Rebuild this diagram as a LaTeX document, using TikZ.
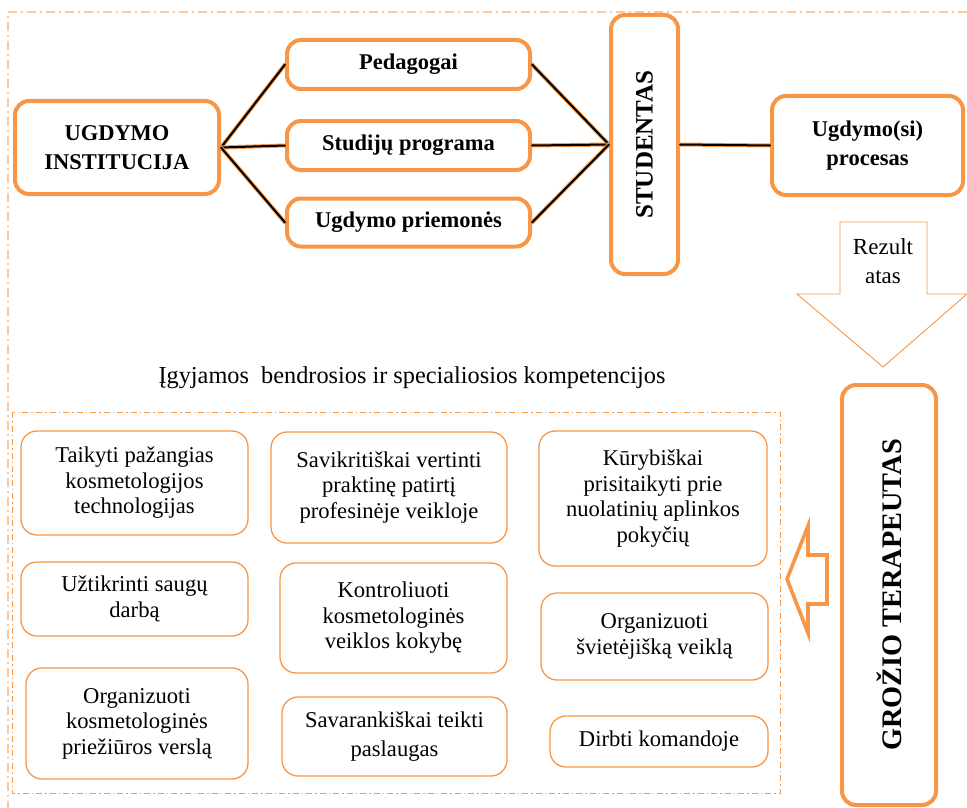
\documentclass[tikz,border=0pt]{standalone}
\usepackage{fontspec}
\setmainfont{Liberation Serif}
\usetikzlibrary{positioning}

\definecolor{accent}{RGB}{247,150,70}
\definecolor{peach}{RGB}{251,200,160}

\begin{document}
\begin{tikzpicture}[x=1pt,y=-1pt,
    mainbox/.style={draw=accent,line width=4pt,rounded corners=14pt,align=center,
      inner sep=0pt,font=\fontsize{22.5}{29}\selectfont\bfseries},
    compbox/.style={draw=accent,line width=1.3pt,rounded corners=16pt,align=center,
      inner sep=0pt,font=\fontsize{22.6}{25.5}\selectfont},
    link/.style={draw=accent,line width=4pt,line cap=round,
      postaction={draw=black,line width=2pt}}]
  \useasboundingbox (0,0) rectangle (967,808);

  % frames
  \draw[peach,line width=1.4pt,dash pattern=on 9pt off 4pt on 2pt off 4pt]
    (967,12) -- (8,12) -- (8,808);
  \draw[accent,line width=1pt,dash pattern=on 6pt off 3pt on 1.5pt off 3pt]
    (12,412) rectangle (780,793);

  % upper row
  \node[mainbox,minimum width=204,minimum height=93] (inst) at (117,147.5) {UGDYMO\\INSTITUCIJA};
  \node[mainbox,minimum width=243,minimum height=49] (ped) at (408.5,64.5) {Pedagogai};
  \node[mainbox,minimum width=243,minimum height=49] (prog) at (408.5,145.5) {Studijų programa};
  \node[mainbox,minimum width=243,minimum height=48] (prem) at (408.5,222.5) {Ugdymo priemonės};
  \node[mainbox,minimum width=67,minimum height=259,font=\fontsize{25}{29}\selectfont\bfseries]
    (stud) at (644.5,144.5) {\rotatebox{90}{STUDENTAS}};
  \node[mainbox,minimum width=191,minimum height=99] (proc) at (867.5,145.5) {Ugdymo(si)\\procesas};

  \draw[link] (inst.east) -- (ped.west);
  \draw[link] (inst.east) -- (prog.west);
  \draw[link] (inst.east) -- (prem.west);
  \draw[link] (ped.east) -- (stud.west);
  \draw[link] (prog.east) -- (stud.west);
  \draw[link] (prem.east) -- (stud.west);
  \draw[link] (stud.east) -- (proc.west);

  % result arrow
  \draw[accent,line width=0.9pt] (840,222) -- (927,222) -- (927,294) -- (967,294)
    -- (883,367) -- (797,294) -- (840,294) -- cycle;
  \node[align=center,font=\fontsize{23}{29}\selectfont] (rez) at (883,261) {Rezult\\atas};

  % therapist
  \node[mainbox,minimum width=94,minimum height=420,font=\fontsize{28.3}{30}\selectfont\bfseries]
    (ter) at (889,595) {\rotatebox{90}{GROŽIO TERAPEUTAS}};
  \draw[accent,line width=3.6pt,miter limit=20] (787,579) -- (808,526) -- (808,555) -- (827,555)
    -- (827,604) -- (808,604) -- (808,633) -- cycle;

  \node[anchor=base,font=\fontsize{24.3}{28}\selectfont] (title) at (412,383)
    {Įgyjamos~ bendrosios ir specialiosios kompetencijos};

  % competencies
  \node[compbox,minimum width=227,minimum height=104] (c11) at (134.5,483) {Taikyti pažangias\\kosmetologijos\\technologijas};
  \node[compbox,minimum width=227,minimum height=74] (c12) at (134.5,599) {Užtikrinti saugų\\darbą};
  \node[compbox,minimum width=222,minimum height=111] (c13) at (137,723.5) {Organizuoti\\kosmetologinės\\priežiūros verslą};
  \node[compbox,minimum width=236,minimum height=111] (c21) at (389,487.5) {Savikritiškai vertinti\\praktinę patirtį\\profesinėje veikloje};
  \node[compbox,minimum width=227,minimum height=110] (c22) at (393.5,618) {Kontroliuoti\\kosmetologinės\\veiklos kokybę};
  \node[compbox,minimum width=225,minimum height=79] (c23) at (394.5,736.5) {Savarankiškai teikti\\[4pt]paslaugas};
  \node[compbox,minimum width=228,minimum height=135] (c31) at (653,498.5) {Kūrybiškai\\prisitaikyti prie\\nuolatinių aplinkos\\pokyčių};
  \node[compbox,minimum width=227,minimum height=87] (c32) at (654.5,636.5) {Organizuoti\\švietėjišką veiklą};
  \node[compbox,minimum width=218,minimum height=51] (c33) at (659,741.5) {Dirbti komandoje};
\end{tikzpicture}
\end{document}
